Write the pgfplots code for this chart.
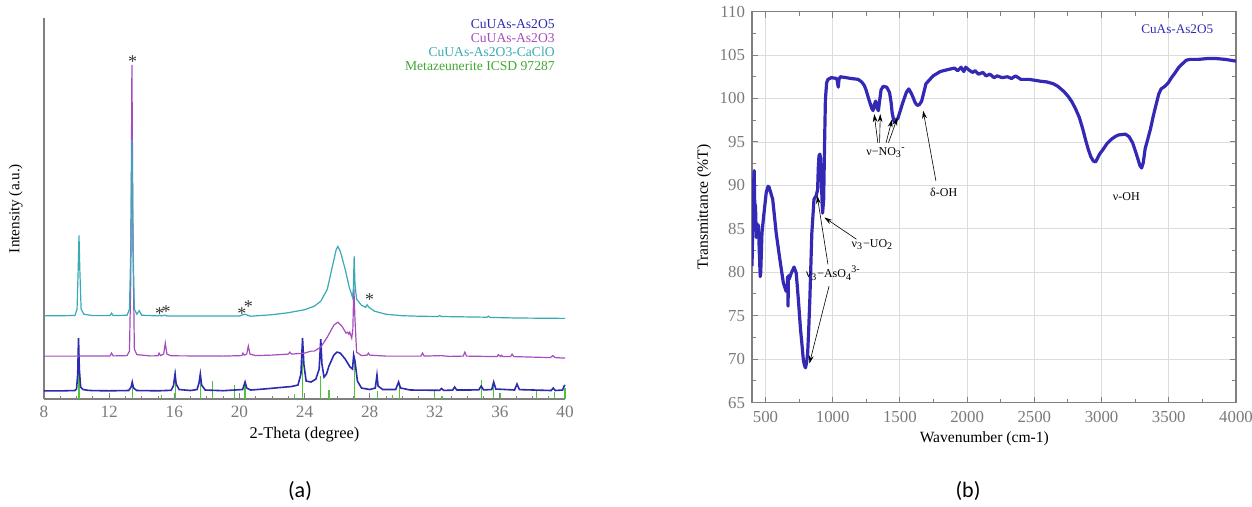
\documentclass[border=0pt]{standalone}
\usepackage{fontspec}
\setmainfont{Liberation Serif}
\newfontfamily\carlito{Carlito}
\usepackage{pgfplots}
\pgfplotsset{compat=1.18}
\usetikzlibrary{arrows.meta}
\definecolor{cblue}{HTML}{2B2BB0}
\definecolor{cpurple}{HTML}{A54DBF}
\definecolor{ccyan}{HTML}{38AAB5}
\definecolor{cgreen}{HTML}{4CC43C}
\definecolor{ftir}{HTML}{3429B5}
\definecolor{axgray}{HTML}{808080}
\definecolor{tickgray}{HTML}{7A7A7A}
\definecolor{gridgray}{HTML}{DCDCDC}

\begin{document}
\begin{tikzpicture}
\path[use as bounding box] (0,0) rectangle (626pt,253.5pt);

% (a) XRD patterns
\begin{axis}[
  at={(22pt,54pt)}, anchor=south west, scale only axis,
  width=260.5pt, height=190.5pt,
  xmin=8, xmax=40, ymin=0, ymax=382,
  axis x line=bottom, axis y line=left,
  axis line style={-, draw=axgray, line width=0.6pt},
  xtick={8,12,...,40}, minor x tick num=3, ytick=\empty,
  tick align=inside, tick style={axgray, line width=0.4pt},
  major tick length=3pt, minor tick length=1.6pt,
  /pgf/number format/assume math mode=true,
  ticklabel style={font=\fontsize{8.6}{9}\selectfont, text=tickgray},
  xlabel={2-Theta (degree)}, ylabel={Intensity (a.u.)},
  xlabel style={at={(axis description cs:0.5,-0.094)}, anchor=center, font=\fontsize{8.2}{9}\selectfont},
  ylabel style={at={(axis description cs:-0.054,0.5)}, anchor=center, font=\fontsize{7.6}{9}\selectfont},
  clip=false,
]
\addplot[ycomb, cgreen, line width=0.6pt, no markers] coordinates {
  (10.15,40) (13.42,13) (15.2,4) (16.1,29) (17.6,27) (18.35,18) (19.7,14) (20.35,17)
  (23.4,5) (23.9,38) (25.0,23) (25.5,9) (27.05,41) (28.5,8) (29.4,4) (29.85,15)
  (32.0,9) (32.45,3) (34.85,19) (35.6,13) (36.05,6) (38.25,9) (39.0,2) (39.35,7) (40,11)};
\addplot[cblue, line width=0.8pt, no markers] coordinates {
  (8,8.2) (9,8.1) (9.9,8.5) (10.0,10) (10.07,25) (10.12,61) (10.17,30) (10.25,12) (10.4,9.5) (10.7,8.7)
  (11,8.4) (12,8.2) (13.2,8.5) (13.35,12) (13.42,17) (13.5,11) (13.7,8.5) (15,8.2) (15.8,8.7)
  (15.95,13) (16.05,25) (16.12,15) (16.3,9.5) (17,8.5) (17.4,9.5) (17.52,16) (17.6,25) (17.68,14)
  (17.9,9) (19,8.3) (20.2,9.5) (20.35,17) (20.45,11) (20.7,9) (21.5,10) (22.5,11.5) (23.2,12.5)
  (23.6,14) (23.78,25) (23.88,61) (23.96,35) (24.1,18) (24.4,17) (24.7,20) (24.9,30) (25.0,60)
  (25.07,35) (25.2,22) (25.35,25) (25.5,33) (25.8,44) (26.0,47) (26.2,46) (26.5,40) (26.8,32)
  (26.95,30) (27.02,44) (27.1,38) (27.25,18) (27.5,11) (28,9.5) (28.35,11) (28.45,24) (28.52,13)
  (28.8,9.5) (29.6,9.5) (29.78,17) (29.9,11) (30.5,9) (32.3,8.7) (32.42,10.5) (32.55,8.6) (33.1,8.9)
  (33.22,12) (33.35,9) (34.7,9.1) (34.85,13) (35.0,9.1) (35.5,9.5) (35.62,17) (35.75,10) (36.9,9)
  (37.05,15) (37.2,9.4) (39.15,8.5) (39.28,11) (39.4,8.5) (39.85,9) (39.95,13) (40,14)};
\addplot[cpurple, line width=0.6pt, no markers] coordinates {
  (8,43) (10,43) (12.05,43.2) (12.15,46) (12.25,43.2) (13.1,43.5) (13.25,48) (13.33,120) (13.4,335)
  (13.47,150) (13.55,50) (13.7,44.5) (14.5,43.2) (15.0,43.3) (15.07,46) (15.15,43.5) (15.35,45)
  (15.45,56) (15.55,45) (15.8,43.3) (19,43) (20.15,43.5) (20.22,46) (20.3,44) (20.45,45) (20.55,53)
  (20.65,45) (21,43.5) (22,44) (23,45) (23.1,47) (23.2,45) (24,46) (24.4,48) (24.6,48) (25,52)
  (25.4,62) (25.8,74) (26.05,77) (26.3,73) (26.55,66) (26.65,67) (26.72,65) (26.78,67) (26.9,61)
  (26.97,70) (27.03,112) (27.1,80) (27.2,47) (27.5,43.5) (27.85,44) (27.92,46) (28,44) (29,43)
  (31.15,43) (31.25,46) (31.35,43) (32.4,43.5) (32.9,42.7) (33.75,43) (33.85,47) (33.95,43)
  (35.85,42.5) (35.9,44.5) (36.05,42.5) (36.1,43.8) (36.2,42.5) (36.65,42.5) (36.75,45) (36.85,42.5)
  (39.1,41.5) (39.25,43.5) (39.4,41.5) (40,41)};
\addplot[ccyan, line width=0.6pt, no markers] coordinates {
  (8,83.5) (9,83.4) (9.9,83.8) (10.03,90) (10.1,130) (10.15,164) (10.2,130) (10.28,90) (10.45,85)
  (11,83.6) (12.05,83.6) (12.15,86) (12.25,83.6) (13.1,84) (13.25,90) (13.33,150) (13.4,260)
  (13.47,150) (13.55,90) (13.7,85) (13.85,88.5) (14,84) (15,83.3) (15.1,84) (15.2,83.3) (15.45,84)
  (15.55,83.3) (20,83.2) (20.35,85) (20.5,84) (20.7,83) (22,84.5) (23,86.5) (24,89.5) (24.6,93)
  (25,98) (25.4,110) (25.7,132) (25.95,150) (26.05,153) (26.2,148) (26.5,130) (26.75,112)
  (26.95,102) (27.0,110) (27.05,143) (27.1,115) (27.2,100) (27.5,94) (27.75,92) (27.85,94.5)
  (27.95,92) (28.3,88) (29,85) (30,83.5) (31,83) (32.2,82.7) (32.3,83.7) (32.4,82.7) (35.2,82)
  (35.3,83) (35.4,81.8) (37,81.2) (40,80.8)};
\begin{scope}[font=\fontsize{9}{9}\selectfont, text=black!80]
\node at (axis cs:13.45,338) {*};
\node at (axis cs:15.1,86) {*};
\node at (axis cs:15.5,88) {*};
\node at (axis cs:20.15,86) {*};
\node at (axis cs:20.55,93) {*};
\node at (axis cs:28,100) {*};
\end{scope}
\begin{scope}[font=\fontsize{6.8}{7}\selectfont]
\node[anchor=east, text=cblue] at (axis cs:39.8,376) {CuUAs-As2O5};
\node[anchor=east, text=cpurple] at (axis cs:39.8,362) {CuUAs-As2O3};
\node[anchor=east, text=ccyan] at (axis cs:39.8,348) {CuUAs-As2O3-CaClO};
\node[anchor=east, text=cgreen!85!black] at (axis cs:39.8,334) {Metazeunerite ICSD 97287};
\end{scope}
\end{axis}

% (b) FTIR spectrum
\begin{axis}[
  at={(376pt,52.2pt)}, anchor=south west, scale only axis,
  width=242pt, height=195.5pt,
  xmin=400, xmax=4000, ymin=65, ymax=110,
  xtick={500,1000,...,4000}, ytick={65,70,...,110},
  minor x tick num=1, minor y tick num=1,
  grid=major, major grid style={gridgray, line width=0.4pt},
  axis line style={axgray, line width=0.7pt},
  tick align=inside, tick style={axgray, line width=0.5pt},
  major tick length=3pt, minor tick length=2pt,
  /pgf/number format/assume math mode=true,
  /pgf/number format/1000 sep={},
  ticklabel style={font=\fontsize{8.4}{9}\selectfont, text=tickgray},
  xticklabel style={yshift=-1pt},
  xlabel={Wavenumber (cm-1)}, ylabel={Transmittance (\%T)},
  xlabel style={at={(axis description cs:0.48,-0.093)}, anchor=center, font=\fontsize{7.8}{9}\selectfont},
  ylabel style={at={(axis description cs:-0.099,0.5)}, anchor=center, font=\fontsize{7.8}{9}\selectfont},
]
\addplot[ftir, line width=1.6pt, no markers, line join=round] coordinates {
  (400,80.7) (411,89.9) (416,91.7) (420,88) (426,87.6) (432,84) (437,84.9) (443,85.5) (448,85.3)
  (455,82) (461,79.5) (465,80) (474,84.5) (487,86.5) (506,89.2) (520,89.9) (527,89.8) (554,88.4)
  (580,84.5) (607,81.5) (633,78.8) (654,77.8) (662,78.2) (665,79.5) (668,76.1) (671,79.6) (676,79.2)
  (692,79.9) (713,80.6) (729,79.9) (745,76.8) (761,73.4) (771,71.8) (782,69.9) (790,69.3) (798,69.0)
  (806,69.6) (814,70.7) (822,73.5) (830,76.8) (845,84.5) (861,88.4) (877,88.8) (888,89.5) (893,92)
  (898,93.4) (905,93.6) (909,93.2) (917,89.9) (925,86.8) (933,88.4) (940,95) (946,99.9) (955,101.8)
  (965,102.2) (991,102.4) (1031,102.3) (1038,101.6) (1042,101.3) (1047,102.2) (1057,102.5)
  (1100,102.4) (1137,102.3) (1190,102.2) (1216,101.9) (1235,101.5) (1248,101.0) (1269,99.9)
  (1290,98.9) (1300,98.6) (1310,99.3) (1320,99.7) (1330,98.9) (1340,98.6) (1348,99.6) (1360,101.0)
  (1376,101.4) (1402,101.3) (1423,100.7) (1435,99.5) (1442,98.4) (1455,97.4) (1465,97.3) (1474,97.6)
  (1485,97.7) (1495,98.2) (1521,99.5) (1548,100.7) (1566,101.1) (1588,100.5) (1614,99.5) (1630,99.2)
  (1645,99.3) (1662,99.7) (1694,101.7) (1747,102.6) (1800,103.1) (1850,103.3) (1906,103.5)
  (1930,103.2) (1955,103.6) (1975,103.1) (1990,103.6) (2012,103.3) (2040,103.0) (2060,103.2)
  (2085,102.8) (2118,103.0) (2140,102.6) (2170,102.8) (2200,102.4) (2224,102.6) (2260,102.4)
  (2300,102.5) (2330,102.3) (2360,102.6) (2400,102.2) (2462,102.2) (2540,102.0) (2595,101.9)
  (2640,101.7) (2675,101.4) (2720,100.8) (2754,100.2) (2780,99.6) (2807,98.8) (2835,97.8)
  (2860,96.5) (2880,95.3) (2900,94.2) (2920,93.3) (2939,92.8) (2955,92.7) (2966,93.0) (2985,93.6)
  (3005,94.0) (3040,94.8) (3072,95.3) (3100,95.6) (3125,95.8) (3178,95.9) (3205,95.6) (3231,94.9)
  (3255,93.8) (3271,93.0) (3285,92.3) (3298,92.0) (3310,92.6) (3324,94.2) (3345,95.4) (3364,96.5)
  (3385,98.0) (3404,99.2) (3425,100.5) (3443,101.1) (3470,101.4) (3496,101.8) (3520,102.4)
  (3549,103.0) (3575,103.6) (3602,104.0) (3630,104.4) (3655,104.5) (3720,104.5) (3788,104.6)
  (3850,104.6) (3920,104.5) (4000,104.3)};
\begin{scope}[font=\fontsize{6}{7}\selectfont]
\node[text=ftir, font=\fontsize{6.6}{7}\selectfont] at (axis cs:3563,108) {CuAs-As2O5};
\node at (axis cs:1397,93.8) {ν−NO\textsubscript{3}\kern-0.05em\textsuperscript{-}};
\node at (axis cs:1826,89.2) {δ-OH};
\node at (axis cs:3184,88.7) {ν-OH};
\node at (axis cs:1296,83.2) {ν\textsubscript{3}−UO\textsubscript{2}};
\node at (axis cs:1005,79.9) {ν\textsubscript{3}−AsO\textsubscript{4}\kern-0.05em\textsuperscript{3-}};
\end{scope}
\begin{scope}[-{Stealth[length=4pt,width=2.4pt]}, black, line width=0.3pt]
\draw (axis cs:1336,94.9) -- (axis cs:1309,98.2);
\draw (axis cs:1349,94.9) -- (axis cs:1354,98.2);
\draw (axis cs:1397,94.9) -- (axis cs:1442,97.6);
\draw (axis cs:1415,94.9) -- (axis cs:1482,97.8);
\draw (axis cs:1768,90.5) -- (axis cs:1673,98.6);
\draw (axis cs:1177,83.8) -- (axis cs:938,86.3);
\draw (axis cs:965,80.9) -- (axis cs:885,88.8);
\draw (axis cs:973,78.4) -- (axis cs:827,69.5);
\end{scope}
\end{axis}

\node[font=\carlito\fontsize{11}{12}\selectfont] at (150pt,8pt) {(a)};
\node[font=\carlito\fontsize{11}{12}\selectfont] at (484pt,8pt) {(b)};
\end{tikzpicture}
\end{document}
